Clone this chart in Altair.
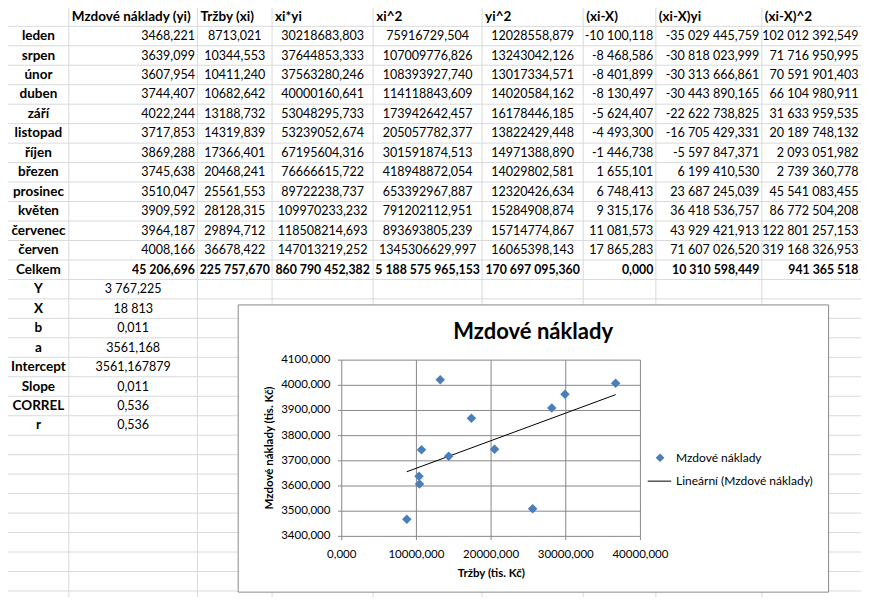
import altair as alt
import pandas as pd

# ---------------- data ----------------
months = ["leden", "srpen", "únor", "duben", "září", "listopad", "říjen",
          "březen", "prosinec", "květen", "červenec", "červen"]
mzdy = [3468.221, 3639.099, 3607.954, 3744.407, 4022.244, 3717.853, 3869.288,
        3745.638, 3510.047, 3909.592, 3964.187, 4008.166]
trzby = [8713.021, 10344.553, 10411.240, 10682.642, 13188.732, 14319.839, 17366.401,
         20468.241, 25561.553, 28128.315, 29894.712, 36678.422]
xi_yi = ["30218683,803", "37644853,333", "37563280,246", "40000160,641", "53048295,733",
         "53239052,674", "67195604,316", "76666615,722", "89722238,737", "109970233,232",
         "118508214,693", "147013219,252"]
xi_sq = ["75916729,504", "107009776,826", "108393927,740", "114118843,609", "173942642,457",
         "205057782,377", "301591874,513", "418948872,054", "653392967,887", "791202112,951",
         "893693805,239", "1345306629,997"]
yi_sq = ["12028558,879", "13243042,126", "13017334,571", "14020584,162", "16178446,185",
         "13822429,448", "14971388,890", "14029802,581", "12320426,634", "15284908,874",
         "15714774,867", "16065398,143"]
dev_x = ["-10 100,118", "-8 468,586", "-8 401,899", "-8 130,497", "-5 624,407", "-4 493,300",
         "-1 446,738", "1 655,101", "6 748,413", "9 315,176", "11 081,573", "17 865,283"]
dev_xy = ["-35 029 445,759", "-30 818 023,999", "-30 313 666,861", "-30 443 890,165",
          "-22 622 738,825", "-16 705 429,331", "-5 597 847,371", "6 199 410,530",
          "23 687 245,039", "36 418 536,757", "43 929 421,913", "71 607 026,520"]
dev_x_sq = ["102 012 392,549", "71 716 950,995", "70 591 901,403", "66 104 980,911",
            "31 633 959,535", "20 189 748,132", "2 093 051,982", "2 739 360,778",
            "45 541 083,455", "86 772 504,208", "122 801 257,153", "319 168 326,953"]
totals_label = "Celkem"
totals = ["45 206,696", "225 757,670", "860 790 452,382", "5 188 575 965,153",
          "170 697 095,360", "0,000", "10 310 598,449", "941 365 518"]
headers = ["", "Mzdové náklady (yi)", "Tržby (xi)", "xi*yi", "xi^2", "yi^2",
           "(xi-X)", "(xi-X)yi", "(xi-X)^2"]
stat_names = ["Y", "X", "b", "a", "Intercept", "Slope", "CORREL", "r"]
stat_values = ["3 767,225", "18 813", "0,011", "3561,168", "3561,167879", "0,011",
               "0,536", "0,536"]

x_ticks = [0, 10000, 20000, 30000, 40000]
x_tick_labels = ["0,000", "10000,000", "20000,000", "30000,000", "40000,000"]
y_ticks = [3400, 3500, 3600, 3700, 3800, 3900, 4000, 4100]
y_tick_labels = ["3400,000", "3500,000", "3600,000", "3700,000", "3800,000",
                 "3900,000", "4000,000", "4100,000"]
chart_title = "Mzdové náklady"
x_title = "Tržby (tis. Kč)"
y_title = "Mzdové náklady (tis. Kč)"
legend_labels = ["Mzdové náklady", "Lineární (Mzdové náklady)"]

# ---------------- layout ----------------
W, H = 853, 589
def sx(v):
    return v * W / 869
def sy(v):
    return v * H / 605

FONT = "Lato"
GRID = "#d9dadb"
CGRID = "#878787"
col_edges = [0, 62, 193, 269, 372, 483, 586, 660, 768, 869]
N_ROWS = 30

TX = alt.Scale(type="linear", domain=list(range(len(col_edges))),
               range=[sx(e) for e in col_edges], nice=False, zero=False)
TY = alt.Scale(type="linear", domain=[0, N_ROWS], range=[sy(8.8), sy(8.8 + 20 * N_ROWS)],
               nice=False, zero=False)
CX = alt.Scale(domain=[0, 40000], range=[sx(340), sx(644.3)], nice=False, zero=False)
CY = alt.Scale(domain=[3400, 4100], range=[sy(542.7), sy(361.7)], nice=False, zero=False)

def fmt(v):
    return f"{v:.3f}".replace(".", ",")

# ---------------- table cells ----------------
col_align = {1: "right", 2: "center", 3: "center", 4: "center", 5: "center",
             6: "right", 7: "right", 8: "right"}
def anchor(c, al):
    return c + (0.5 if al == "center" else 1.0 if al == "right" else 0.0)

cells = []
for c, h in enumerate(headers):
    if h:
        cells.append(dict(xe=c, row=0, text=h, kind="hdr"))
for i, m in enumerate(months):
    r = i + 1
    cells.append(dict(xe=0.5, row=r, text=m, kind="lab"))
    vals = [fmt(mzdy[i]), fmt(trzby[i]), xi_yi[i], xi_sq[i], yi_sq[i],
            dev_x[i], dev_xy[i], dev_x_sq[i]]
    for c, v in enumerate(vals, start=1):
        al = col_align[c]
        cells.append(dict(xe=anchor(c, al), row=r, text=v,
                          kind="rval" if al == "right" else "cval"))
tr = len(months) + 1
cells.append(dict(xe=0.5, row=tr, text=totals_label, kind="lab"))
for c, v in enumerate(totals, start=1):
    al = col_align[c]
    cells.append(dict(xe=anchor(c, al), row=tr, text=v,
                      kind="rtot" if al == "right" else "ctot"))
for j, (n, v) in enumerate(zip(stat_names, stat_values)):
    r = tr + 1 + j
    cells.append(dict(xe=0.5, row=r, text=n, kind="lab"))
    cells.append(dict(xe=1.5, row=r, text=v, kind="cval"))
cells_df = pd.DataFrame(cells)

kinds = {
    "hdr": dict(align="left", fontWeight="bold", dx=3, fontSize=13.5),
    "lab": dict(align="center", fontWeight="bold", dx=0, fontSize=13.5),
    "cval": dict(align="center", fontWeight="normal", dx=0, fontSize=12.5),
    "rval": dict(align="right", fontWeight="normal", dx=-2.5, fontSize=12.5),
    "ctot": dict(align="center", fontWeight="bold", dx=0, fontSize=12.3),
    "rtot": dict(align="right", fontWeight="bold", dx=-2.5, fontSize=12.3),
}

layers = []

# spreadsheet grid
vlines = pd.DataFrame({"xe": list(range(1, len(col_edges) - 1))})
layers.append(alt.Chart(vlines).mark_rule(color=GRID, strokeWidth=1).encode(
    x=alt.X("xe:Q", scale=TX, axis=None),
    y=alt.Y(datum=-1, scale=TY, axis=None), y2=alt.Y2(datum=N_ROWS)))
hlines = pd.DataFrame({"b": [k + 0.5 for k in range(N_ROWS)]})
layers.append(alt.Chart(hlines).mark_rule(color=GRID, strokeWidth=1).encode(
    y=alt.Y("b:Q", scale=TY, axis=None),
    x=alt.X(datum=0, scale=TX, axis=None), x2=alt.X2(datum=len(col_edges) - 1)))

for k, p in kinds.items():
    layers.append(alt.Chart(cells_df).transform_filter(alt.datum.kind == k).mark_text(
        font=FONT, color="black", baseline="middle", **p).encode(
        x=alt.X("xe:Q", scale=TX, axis=None),
        y=alt.Y("row:Q", scale=TY, axis=None),
        text="text:N"))

# chart box
one = pd.DataFrame({"d": [0]})
layers.append(alt.Chart(one).mark_rect(fill="white", stroke="#8a8a8a", strokeWidth=1).encode(
    x=alt.value(sx(234.5)), x2=alt.value(sx(836)),
    y=alt.value(sy(305)), y2=alt.value(sy(600))))

yt = pd.DataFrame({"v": y_ticks, "lab": y_tick_labels})
xt = pd.DataFrame({"v": x_ticks, "lab": x_tick_labels})

# gridlines
layers.append(alt.Chart(yt).mark_rule(color=CGRID, strokeWidth=1).encode(
    y=alt.Y("v:Q", scale=CY, axis=None),
    x=alt.X(datum=0, scale=CX, axis=None), x2=alt.X2(datum=40000)))
layers.append(alt.Chart(xt).mark_rule(color=CGRID, strokeWidth=1).encode(
    x=alt.X("v:Q", scale=CX, axis=None),
    y=alt.Y(datum=3400, scale=CY, axis=None), y2=alt.Y2(datum=4100)))
# tick marks
layers.append(alt.Chart(xt).mark_rule(color=CGRID, strokeWidth=1).encode(
    x=alt.X("v:Q", scale=CX, axis=None),
    y=alt.value(sy(542.7)), y2=alt.value(sy(546.5))))
layers.append(alt.Chart(yt).mark_rule(color=CGRID, strokeWidth=1).encode(
    y=alt.Y("v:Q", scale=CY, axis=None),
    x=alt.value(sx(336.2)), x2=alt.value(sx(340))))
# tick labels
layers.append(alt.Chart(xt).mark_text(font=FONT, fontSize=11.5, color="black",
                                      align="center", baseline="middle").encode(
    x=alt.X("v:Q", scale=CX, axis=None), y=alt.value(sy(561.5)), text="lab:N"))
layers.append(alt.Chart(yt).mark_text(font=FONT, fontSize=11.5, color="black",
                                      align="right", baseline="middle").encode(
    y=alt.Y("v:Q", scale=CY, axis=None), x=alt.value(sx(328.5)), text="lab:N"))

# data points and trendline
pts = pd.DataFrame({"mesic": months, "trzby": trzby, "mzdy": mzdy})
layers.append(alt.Chart(pts).transform_regression("trzby", "mzdy").mark_line(
    color="black", strokeWidth=1).encode(
    x=alt.X("trzby:Q", scale=CX, axis=None),
    y=alt.Y("mzdy:Q", scale=CY, axis=None)))
layers.append(alt.Chart(pts).mark_point(shape="diamond", filled=True, size=90,
                                        color="#4a7ebb", opacity=1).encode(
    x=alt.X("trzby:Q", scale=CX, axis=None),
    y=alt.Y("mzdy:Q", scale=CY, axis=None)))

# titles
layers.append(alt.Chart(pd.DataFrame({"t": [chart_title]})).mark_text(
    font=FONT, fontSize=22, fontWeight="bold", color="black",
    align="center", baseline="middle").encode(
    x=alt.value(sx(535)), y=alt.value(sy(333)), text="t:N"))
layers.append(alt.Chart(pd.DataFrame({"t": [x_title]})).mark_text(
    font=FONT, fontSize=11.5, fontWeight="bold", color="black",
    align="center", baseline="middle").encode(
    x=alt.value(sx(492.3)), y=alt.value(sy(581)), text="t:N"))
layers.append(alt.Chart(pd.DataFrame({"t": [y_title]})).mark_text(
    font=FONT, fontSize=11.5, fontWeight="bold", color="black", angle=270,
    align="center", baseline="middle").encode(
    x=alt.value(sx(267)), y=alt.value(sy(452)), text="t:N"))

# legend
leg = pd.DataFrame({"lab": legend_labels, "k": [0, 1]})
LY = alt.Scale(domain=[0, 1], range=[sy(462), sy(486)], nice=False, zero=False)
layers.append(alt.Chart(leg).mark_text(font=FONT, fontSize=12, color="black",
                                       align="left", baseline="middle").encode(
    x=alt.value(sx(680.5)), y=alt.Y("k:Q", scale=LY, axis=None), text="lab:N"))
layers.append(alt.Chart(leg).transform_filter(alt.datum.k == 0).mark_point(
    shape="diamond", filled=True, size=75, color="#4a7ebb", opacity=1).encode(
    x=alt.value(sx(664.3)), y=alt.Y("k:Q", scale=LY, axis=None)))
layers.append(alt.Chart(leg).transform_filter(alt.datum.k == 1).mark_rule(
    color="black", strokeWidth=1).encode(
    x=alt.value(sx(651.7)), x2=alt.value(sx(675.7)), y=alt.Y("k:Q", scale=LY, axis=None)))

chart = alt.layer(*layers).resolve_scale(x="independent", y="independent").properties(
    width=W, height=H, padding=0, background="white",
    autosize=alt.AutoSizeParams(type="none")).configure_view(stroke=None)

chart.save("out.html", embed_options={"renderer": "svg", "actions": False})
